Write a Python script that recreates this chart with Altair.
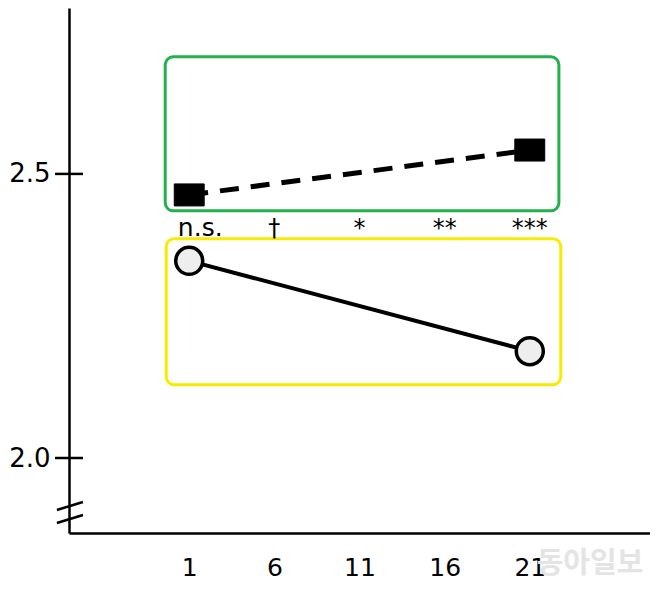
import altair as alt
import pandas as pd

# ---- data ----
weeks = [1, 21]
dashed_vals = [2.463, 2.542]     # black squares, dashed line
solid_vals = [2.347, 2.188]      # open circles, solid line
x_ticks = [1, 6, 11, 16, 21]
y_ticks = [2.0, 2.5]
sig_x = [6, 11, 16, 21]
sig_labels = ["†", "*", "**", "***"]
ns_x = [1]
ns_label = ["n.s."]
sig_y = 2.391

X_DOMAIN = [-6.06, 28.06]
Y_DOMAIN = [1.868, 2.792]

green_box = pd.DataFrame({"x": [-0.41], "x2": [22.71], "y": [2.706], "y2": [2.435]})
yellow_box = pd.DataFrame({"x": [-0.35], "x2": [22.82], "y": [2.386], "y2": [2.129]})

# y tick marks that cross the axis, and the axis-break slashes
tick_df = pd.DataFrame({"y": y_ticks, "x": [-6.88] * len(y_ticks), "x2": [-5.24] * len(y_ticks)})
break_df = pd.DataFrame({"x": [-6.77, -6.77], "x2": [-5.24, -5.24],
                         "y": [1.9085, 1.8856], "y2": [1.9225, 1.8996]})

dashed = pd.DataFrame({"week": weeks, "value": dashed_vals})
solid = pd.DataFrame({"week": weeks, "value": solid_vals})
sig = pd.DataFrame({"week": sig_x, "label": sig_labels, "value": [sig_y] * len(sig_x)})
ns = pd.DataFrame({"week": ns_x, "label": ns_label, "value": [sig_y]})

FONT = "DejaVu Sans"

xscale = alt.Scale(domain=X_DOMAIN, nice=False, zero=False)
yscale = alt.Scale(domain=Y_DOMAIN, nice=False, zero=False)

x_axis = alt.Axis(values=x_ticks, ticks=False, labelPadding=22, title=None,
                  grid=False, domainColor="black", domainWidth=2.5,
                  labelFont=FONT, labelFontSize=25, labelColor="black")
y_axis = alt.Axis(values=y_ticks, ticks=False, labelPadding=19, title=None, format=".1f",
                  grid=False, domainColor="black", domainWidth=2.5,
                  labelFont=FONT, labelFontSize=26, labelColor="black")

def rect_layer(df, color):
    return alt.Chart(df).mark_rect(fillOpacity=0, stroke=color, strokeWidth=3,
                                   cornerRadius=8).encode(
        x=alt.X("x:Q", scale=xscale, axis=x_axis),
        x2="x2:Q",
        y=alt.Y("y:Q", scale=yscale, axis=y_axis),
        y2="y2:Q")

green = rect_layer(green_box, "#22b14c")
yellow = rect_layer(yellow_box, "#f7ec00")

ticks = alt.Chart(tick_df).mark_rule(color="black", strokeWidth=2.5).encode(
    x=alt.X("x:Q", scale=xscale), x2="x2:Q", y=alt.Y("y:Q", scale=yscale))

breaks = alt.Chart(break_df).mark_rule(color="black", strokeWidth=2.5).encode(
    x=alt.X("x:Q", scale=xscale), x2="x2:Q",
    y=alt.Y("y:Q", scale=yscale), y2="y2:Q")

dash_line = alt.Chart(dashed).mark_line(color="black", strokeWidth=5,
                                        strokeDash=[19, 12]).encode(
    x=alt.X("week:Q", scale=xscale), y=alt.Y("value:Q", scale=yscale))

squares = alt.Chart(dashed).mark_point(
    shape="M-1.36,-1L1.36,-1L1.36,1L-1.36,1Z", size=484, filled=True,
    fill="black", stroke="black", strokeWidth=1, opacity=1).encode(
    x=alt.X("week:Q", scale=xscale), y=alt.Y("value:Q", scale=yscale))

solid_line = alt.Chart(solid).mark_line(color="black", strokeWidth=4).encode(
    x=alt.X("week:Q", scale=xscale), y=alt.Y("value:Q", scale=yscale))

circles = alt.Chart(solid).mark_point(
    shape="circle", size=729, filled=True, fill="#eeeeee", stroke="black",
    strokeWidth=3.5, opacity=1).encode(
    x=alt.X("week:Q", scale=xscale), y=alt.Y("value:Q", scale=yscale))

sig_text = alt.Chart(sig).mark_text(font=FONT, fontSize=24, color="black",
                                    baseline="alphabetic").encode(
    x=alt.X("week:Q", scale=xscale), y=alt.Y("value:Q", scale=yscale), text="label:N")

ns_text = alt.Chart(ns).mark_text(font=FONT, fontSize=25, color="black",
                                  baseline="alphabetic", dx=11).encode(
    x=alt.X("week:Q", scale=xscale), y=alt.Y("value:Q", scale=yscale), text="label:N")

watermark = alt.Chart(pd.DataFrame({"t": ["동아일보"]})).mark_text(
    font="Noto Sans CJK KR", fontSize=29, fontWeight="bold", color="#e4e4e4",
    baseline="middle").encode(x=alt.value(521), y=alt.value(556), text="t:N")

chart = alt.layer(
    green, yellow, ticks, breaks, dash_line, solid_line, squares, circles,
    sig_text, ns_text, watermark
).properties(
    width=581, height=525,
    autosize=alt.AutoSizeParams(type="none"),
    padding={"left": 61, "top": 0, "right": 0, "bottom": 48},
).configure_view(strokeWidth=0)

chart.save("out.html", embed_options={"renderer": "svg", "actions": False})
